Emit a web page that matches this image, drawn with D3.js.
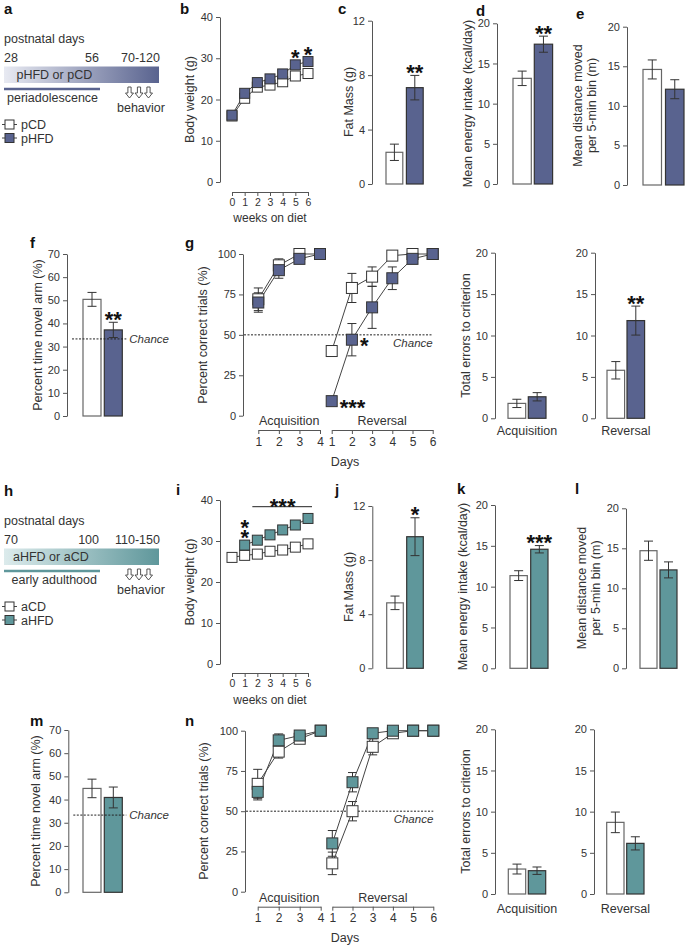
<!DOCTYPE html>
<html><head><meta charset="utf-8">
<script src="https://cdn.jsdelivr.net/npm/d3@7"></script>
<style>body{margin:0;background:#fff} svg text{font-family:"Liberation Sans",Arial,Helvetica,sans-serif;fill:#333}</style>
</head><body><svg id="c" width="685" height="945"></svg>
<script>
// ================= DATA =================
const groupsP = ['pCD', 'pHFD'];
const groupsA = ['aCD', 'aHFD'];
const weeks = [0, 1, 2, 3, 4, 5, 6];
const acqDays = [1, 2, 3, 4];
const revDays = [1, 2, 3, 4, 5, 6];

// periadolescent cohort
const bwPCD  = [16.0, 20.3, 23.0, 23.5, 24.3, 25.7, 26.3];
const bwPHFD = [16.2, 21.5, 24.1, 25.0, 26.2, 28.4, 29.2];
const fatMassP = [2.33, 7.08],  fatMassErrP = [0.6, 0.9];
const energyP  = [13.15, 17.4], energyErrP  = [0.9, 1.0];
const distP    = [14.6, 12.1],  distErrP    = [1.2, 1.2];
const novelP   = [50.4, 37.2],  novelErrP   = [3.0, 3.3];
const acqPCD  = [72, 93, 100, 100],  acqErrPCD  = [7, 4, 0, 0];
const acqPHFD = [70, 90, 97, 100],   acqErrPHFD = [6, 5, 2, 0];
const revPCD  = [40, 79, 86, 99, 100, 100], revErrPCD  = [2, 9, 6, 0, 0, 0];
const revPHFD = [9, 47, 67, 85, 97, 100],   revErrPHFD = [0, 10, 13, 7, 3, 0];
const errAcqP = [1.8, 2.6],  errAcqErrP = [0.5, 0.5];
const errRevP = [5.8, 11.8], errRevErrP = [1.05, 1.75];

// adult cohort
const bwACD  = [26.0, 26.5, 26.8, 27.5, 27.8, 28.5, 29.3];
const bwAHFD = [null, 29.0, 30.2, 31.5, 32.7, 33.9, 35.5];
const fatMassA = [4.84, 9.73],  fatMassErrA = [0.5, 1.4];
const energyA  = [11.35, 14.58], energyErrA = [0.6, 0.45];
const distA    = [14.7, 12.3],  distErrA    = [1.2, 1.0];
const novelA   = [44.8, 40.9],  novelErrA   = [4.0, 4.5];
const acqACD  = [67, 87, 95, 100], acqErrACD  = [9, 4, 2, 0];
const acqAHFD = [62, 94, 97, 100], acqErrAHFD = [5, 4, 2, 0];
const revACD  = [17.6, 50, 90, 98.4, 100, 100], revErrACD  = [7, 6, 5, 0, 0, 0];
const revAHFD = [30, 68, 98.4, 100, 100, 100],  revErrAHFD = [8, 6, 0, 0, 0, 0];
const errAcqA = [3.03, 2.83], errAcqErrA = [0.6, 0.45];
const errRevA = [8.7, 6.15],  errRevErrA = [1.25, 0.8];

// ================= STYLE =================
const FONT = '"Liberation Sans", Arial, Helvetica, sans-serif';
const BLUE = '#59638f', TEAL = '#5f979b', DARK = '#333', AX = '#555';
const svg = d3.select('#c');
const fmtInt = d3.format('d');

const defs = svg.append('defs');
function grad(id, c0, c1) {
  const g = defs.append('linearGradient').attr('id', id);
  g.append('stop').attr('offset', '0%').attr('stop-color', c0);
  g.append('stop').attr('offset', '100%').attr('stop-color', c1);
}
grad('gP', '#e8eaf2', BLUE);
grad('gA', '#dcebec', TEAL);

function txt(x, y, s, size, opts = {}) {
  const t = svg.append('text').attr('x', x).attr('y', y).text(s)
    .style('font-size', size + 'px');
  if (opts.anchor) t.attr('text-anchor', opts.anchor);
  if (opts.bold) t.style('font-weight', 'bold');
  if (opts.italic) t.style('font-style', 'italic');
  return t;
}
function letter(x, y, s) { txt(x, y, s, 15, { bold: true }).style('fill', '#111'); }
function yLabel(lines, x, yc, dx = 14) {
  lines.forEach((t, i) => svg.append('text')
    .attr('transform', `translate(${x + i * dx},${yc}) rotate(-90)`)
    .attr('text-anchor', 'middle').style('font-size', '12.5px').text(t));
}
function styleAxis(g, fs) {
  g.attr('font-family', FONT).attr('font-size', fs);
  g.select('.domain').attr('stroke', AX);
  g.selectAll('.tick line').attr('stroke', AX);
  g.selectAll('.tick text').attr('fill', '#333');
}
function yAxis(x, scale, ticks) {
  const g = svg.append('g').attr('transform', `translate(${x},0)`)
    .call(d3.axisLeft(scale).tickValues(ticks).tickFormat(fmtInt).tickSize(4).tickSizeOuter(0).tickPadding(3));
  styleAxis(g, 11);
}
function xAxis(y, scale, ticks, fs) {
  const g = svg.append('g').attr('transform', `translate(0,${y})`)
    .call(d3.axisBottom(scale).tickValues(ticks).tickFormat(fmtInt).tickSize(4).tickSizeOuter(0).tickPadding(3));
  styleAxis(g, fs);
}
function errorBar(cx, yLo, yHi, half, color = DARK) {
  if (Math.abs(yLo - yHi) < 0.5) return;
  const g = svg.append('g').attr('stroke', color).attr('stroke-width', 1);
  g.append('line').attr('x1', cx).attr('x2', cx).attr('y1', yLo).attr('y2', yHi);
  g.append('line').attr('x1', cx - half).attr('x2', cx + half).attr('y1', yLo).attr('y2', yLo);
  g.append('line').attr('x1', cx - half).attr('x2', cx + half).attr('y1', yHi).attr('y2', yHi);
}
function stars(cx, cy, s, anchor = 'middle') {
  return svg.append('text').attr('x', cx).attr('y', cy + 12.5).attr('text-anchor', anchor)
    .style('font-size', '22px').style('font-weight', 'bold').style('fill', '#111').text(s);
}

// ================= BAR PANELS =================
function barPanel(L, groups, vals, errs, fill) {
  const y = d3.scaleLinear().domain([0, L.max]).range([L.y0, L.y1]);
  yAxis(L.ax, y, d3.range(0, L.max + 0.001, L.step));
  const x = d3.scaleBand().domain(groups)
    .range([L.bx, L.bx + 2 * L.bw + L.gap]).paddingInner(L.gap / (L.bw + L.gap));
  const rows = groups.map((g, i) => ({ g, v: vals[i], e: errs[i], i }));
  svg.append('g').selectAll('rect').data(rows).join('rect')
    .attr('x', d => x(d.g)).attr('y', d => y(d.v))
    .attr('width', x.bandwidth()).attr('height', d => y(0) - y(d.v))
    .attr('fill', d => d.i === 0 ? '#fff' : fill)
    .attr('stroke', d => d.i === 0 ? '#666' : DARK).attr('stroke-width', 1.2);
  rows.forEach(d => errorBar(x(d.g) + x.bandwidth() / 2, y(d.v - d.e), y(d.v + d.e), 4.5));
  if (L.stars) stars(x(groups[1]) + x.bandwidth() / 2, y(vals[1] + errs[1]) - 8, L.stars);
  if (L.chance) {
    const yc = y(33.3);
    svg.append('line').attr('x1', L.ax + 5).attr('x2', L.bx + 2 * L.bw + L.gap + 4)
      .attr('y1', yc).attr('y2', yc).attr('stroke', '#222').attr('stroke-dasharray', '2,1.5');
    txt(L.bx + 2 * L.bw + L.gap + 7, yc + 4, 'Chance', 11.5, { italic: true });
  }
  if (L.xlabel) txt(L.bx + L.bw + L.gap / 2, L.xlabelY, L.xlabel, 12.5, { anchor: 'middle' });
  return y;
}

// ================= BODY WEIGHT =================
function weightPanel(L, series) {
  const y = d3.scaleLinear().domain([0, 40]).range([L.y0, L.y1]);
  const x = d3.scaleLinear().domain([0, 6]).range([L.xL, L.xR]);
  yAxis(L.ax, y, [0, 10, 20, 30, 40]);
  xAxis(L.xAxisY, x, weeks, 10.5);
  txt((L.xL + L.xR) / 2, L.labelY, 'weeks on diet', 12, { anchor: 'middle' });
  const line = d3.line().defined(d => d != null).x((d, i) => x(weeks[i])).y(d => y(d));
  series.forEach(s => {
    svg.append('path').attr('d', line(s.vals)).attr('fill', 'none').attr('stroke', '#444').attr('stroke-width', 1);
  });
  series.forEach(s => {
    svg.append('g').selectAll('rect').data(s.vals.map((v, i) => ({ v, w: weeks[i] })).filter(d => d.v != null))
      .join('rect').attr('x', d => x(d.w) - 5).attr('y', d => y(d.v) - 5).attr('width', 10).attr('height', 10)
      .attr('fill', s.fill).attr('stroke', DARK).attr('stroke-width', 1);
  });
  return { x, y };
}

// ================= TRIALS =================
function trialPanel(L, acq, rev) {
  const y = d3.scaleLinear().domain([0, 100]).range([L.y0, L.y1]);
  const xa = d3.scaleLinear().domain([1, 4]).range(L.acq);
  const xr = d3.scaleLinear().domain([1, 6]).range(L.rev);
  yAxis(L.ax, y, [0, 25, 50, 75, 100]);
  xAxis(L.bracketY, xa, acqDays, 12);
  xAxis(L.bracketY, xr, revDays, 12);
  txt((L.acq[0] + L.acq[1]) / 2, L.secY, 'Acquisition', 12.5, { anchor: 'middle' });
  txt((L.rev[0] + L.rev[1]) / 2, L.secY, 'Reversal', 12.5, { anchor: 'middle' });
  txt(345, L.daysY, 'Days', 12.5, { anchor: 'middle' });
  const yc = y(50);
  svg.append('line').attr('x1', L.ax + 1).attr('x2', L.rev[1]).attr('y1', yc).attr('y2', yc)
    .attr('stroke', '#222').attr('stroke-dasharray', '2,1.5');
  txt(L.rev[1], yc + 12, 'Chance', 11.5, { anchor: 'end', italic: true });
  const sections = [{ x: xa, days: acqDays, ser: acq }, { x: xr, days: revDays, ser: rev }];
  sections.forEach(sec => sec.ser.forEach(s => {
    s.vals.forEach((v, i) => errorBar(sec.x(sec.days[i]), y(v - s.errs[i]), y(Math.min(100, v + s.errs[i])), 4.5));
  }));
  sections.forEach(sec => sec.ser.forEach(s => {
    const line = d3.line().x((d, i) => sec.x(sec.days[i])).y(d => y(d));
    svg.append('path').attr('d', line(s.vals)).attr('fill', 'none').attr('stroke', '#444').attr('stroke-width', 1);
  }));
  sections.forEach(sec => sec.ser.forEach(s => {
    svg.append('g').selectAll('rect').data(s.vals.map((v, i) => ({ v, d: sec.days[i] })))
      .join('rect').attr('x', d => sec.x(d.d) - 5.5).attr('y', d => y(d.v) - 5.5)
      .attr('width', 11).attr('height', 11).attr('fill', s.fill).attr('stroke', DARK).attr('stroke-width', 1);
  }));
  return { xa, xr, y };
}

// ================= TIMELINE =================
function arrow(cx, top) {
  const p = `M${cx - 1.6},${top} L${cx + 1.6},${top} L${cx + 1.6},${top + 6} L${cx + 4},${top + 6} L${cx},${top + 11} L${cx - 4},${top + 6} L${cx - 1.6},${top + 6} Z`;
  svg.append('path').attr('d', p).attr('fill', '#fff').attr('stroke', '#444').attr('stroke-width', 0.9);
}
function timeline(T) {
  letter(4, T.top + 14, T.letter);
  txt(4, T.top + 43, 'postnatal days', 12.5);
  txt(4, T.top + 61.5, T.d0, 12.5);
  txt(99, T.top + 61.5, T.d1, 12.5, { anchor: 'end' });
  txt(T.d2x, T.top + 61.5, T.d2, 12.5);
  svg.append('rect').attr('x', 4).attr('y', T.top + 66.5).attr('width', 155).attr('height', 16.5)
    .attr('fill', `url(#${T.grad})`);
  txt(T.dietX, T.top + 79, T.diet, 12.5);
  svg.append('line').attr('x1', 4).attr('x2', 100).attr('y1', T.top + 89).attr('y2', T.top + 89)
    .attr('stroke', T.color).attr('stroke-width', 2.5);
  txt(T.periodX, T.top + 101.5, T.period, 12.5);
  [129.5, 139, 148.5].forEach(cx => arrow(cx, T.top + 87));
  txt(117, T.top + 111.5, 'behavior', 12.5);
  T.legend.forEach((name, i) => {
    const cy = T.top + 124.5 + i * 13.5;
    svg.append('line').attr('x1', 2).attr('x2', 17).attr('y1', cy).attr('y2', cy).attr('stroke', '#444');
    svg.append('rect').attr('x', 5).attr('y', cy - 4.5).attr('width', 9).attr('height', 9)
      .attr('fill', i === 0 ? '#fff' : T.color).attr('stroke', DARK);
    txt(21, cy + 4.5, name, 12.5);
  });
}

// ================= TOP HALF =================
timeline({ top: 0, letter: 'a', d0: '28', d1: '56', d2: '70-120', d2x: 121, grad: 'gP', diet: 'pHFD or pCD', dietX: 16.5,
  period: 'periadolescence', periodX: 7, color: BLUE, legend: groupsP });

letter(180, 14, 'b');
const wb = weightPanel({ ax: 220, y0: 182, y1: 17, xL: 232, xR: 308, xAxisY: 192, labelY: 222 },
  [{ vals: bwPCD, fill: '#fff' }, { vals: bwPHFD, fill: BLUE }]);
yLabel(['Body weight (g)'], 194, 99.5);
[5, 6].forEach(w => stars(wb.x(w), wb.y(bwPHFD[w]) - 12, '*'));

letter(338, 14, 'c');
barPanel({ ax: 372, y0: 184, y1: 20.7, max: 12, step: 4, bx: 386, bw: 16.8, gap: 3.6, stars: '**' },
  groupsP, fatMassP, fatMassErrP, BLUE);
yLabel(['Fat Mass (g)'], 353, 102);

letter(476, 16, 'd');
barPanel({ ax: 497, y0: 184, y1: 23.3, max: 20, step: 5, bx: 513, bw: 18.3, gap: 3, stars: '**' },
  groupsP, energyP, energyErrP, BLUE);
yLabel(['Mean energy intake (kcal/day)'], 472, 103.5);

letter(576, 19, 'e');
barPanel({ ax: 627, y0: 185, y1: 26.7, max: 20, step: 5, bx: 643, bw: 18.5, gap: 4 },
  groupsP, distP, distErrP, BLUE);
yLabel(['Mean distance moved', 'per 5-min bin (m)'], 582, 105.5);

letter(30, 248, 'f');
barPanel({ ax: 67, y0: 416, y1: 254, max: 70, step: 10, bx: 83, bw: 18, gap: 3.3, stars: '**', chance: true },
  groupsP, novelP, novelErrP, BLUE);
yLabel(['Percent time novel arm (%)'], 42, 335);

letter(185, 248, 'g');
const tg = trialPanel({ ax: 243, y0: 415.7, y1: 254, acq: [258.3, 320], rev: [331.7, 432.7], bracketY: 430, secY: 425, daysY: 466 },
  [{ vals: acqPCD, errs: acqErrPCD, fill: '#fff' }, { vals: acqPHFD, errs: acqErrPHFD, fill: BLUE }],
  [{ vals: revPCD, errs: revErrPCD, fill: '#fff' }, { vals: revPHFD, errs: revErrPHFD, fill: BLUE }]);
yLabel(['Percent correct trials (%)'], 207, 335);
stars(tg.xr(2) + 8, tg.y(revPHFD[1]) + 1, '*', 'start');
stars(tg.xr(1) + 8, tg.y(revPHFD[0]) + 1, '***', 'start');

barPanel({ ax: 495, y0: 418.3, y1: 252.7, max: 20, step: 5, bx: 508, bw: 17.7, gap: 2.6, xlabel: 'Acquisition', xlabelY: 435 },
  groupsP, errAcqP, errAcqErrP, BLUE);
yLabel(['Total errors to criterion'], 469.5, 335.5);
barPanel({ ax: 595, y0: 418.3, y1: 252.7, max: 20, step: 5, bx: 607, bw: 17.6, gap: 2.4, stars: '**', xlabel: 'Reversal', xlabelY: 435 },
  groupsP, errRevP, errRevErrP, BLUE);

// ================= BOTTOM HALF =================
timeline({ top: 482, letter: 'h', d0: '70', d1: '100', d2: '110-150', d2x: 115, grad: 'gA', diet: 'aHFD or aCD', dietX: 13,
  period: 'early adulthood', periodX: 11.5, color: TEAL, legend: groupsA });

letter(176, 495, 'i');
const wi = weightPanel({ ax: 220, y0: 664, y1: 500, xL: 232, xR: 308, xAxisY: 673, labelY: 704 },
  [{ vals: bwACD, fill: '#fff' }, { vals: bwAHFD, fill: TEAL }]);
yLabel(['Body weight (g)'], 194, 582);
// two stacked asterisks at week 1 (one text element, two lines)
const st = stars(wi.x(1), wi.y(bwAHFD[1]) - 23, '');
st.append('tspan').attr('x', wi.x(1)).text('*');
st.append('tspan').attr('x', wi.x(1)).attr('dy', 10).text('*');
svg.append('line').attr('x1', wi.x(2) - 5).attr('x2', wi.x(6) + 4).attr('y1', 506.7).attr('y2', 506.7).attr('stroke', '#222');
stars((wi.x(2) + wi.x(6)) / 2, 501.5, '***');

letter(335, 495, 'j');
barPanel({ ax: 372.3, y0: 668.3, y1: 506, max: 12, step: 4, bx: 386.7, bw: 16.6, gap: 3.4, stars: '*' },
  groupsA, fatMassA, fatMassErrA, TEAL);
yLabel(['Fat Mass (g)'], 353, 587);

letter(457, 494, 'k');
barPanel({ ax: 495, y0: 668.3, y1: 505, max: 20, step: 5, bx: 510, bw: 17.3, gap: 3.4, stars: '***' },
  groupsA, energyA, energyErrA, TEAL);
yLabel(['Mean energy intake (kcal/day)'], 467, 586.5);

letter(575, 494, 'l');
barPanel({ ax: 626, y0: 668.3, y1: 508.3, max: 20, step: 5, bx: 640, bw: 17, gap: 3 },
  groupsA, distA, distErrA, TEAL);
yLabel(['Mean distance moved', 'per 5-min bin (m)'], 586, 588);

letter(30, 726, 'm');
barPanel({ ax: 68.3, y0: 892.3, y1: 730, max: 70, step: 10, bx: 83, bw: 18, gap: 3.3, chance: true },
  groupsA, novelA, novelErrA, TEAL);
yLabel(['Percent time novel arm (%)'], 40, 811);

letter(185, 726, 'n');
trialPanel({ ax: 245, y0: 891.7, y1: 730.7, acq: [257.7, 320.7], rev: [332.3, 433.3], bracketY: 906.7, secY: 901.5, daysY: 942 },
  [{ vals: acqACD, errs: acqErrACD, fill: '#fff' }, { vals: acqAHFD, errs: acqErrAHFD, fill: TEAL }],
  [{ vals: revACD, errs: revErrACD, fill: '#fff' }, { vals: revAHFD, errs: revErrAHFD, fill: TEAL }]);
yLabel(['Percent correct trials (%)'], 207.5, 811);

barPanel({ ax: 495, y0: 894, y1: 729.3, max: 20, step: 5, bx: 508.3, bw: 17.4, gap: 2.6, xlabel: 'Acquisition', xlabelY: 913 },
  groupsA, errAcqA, errAcqErrA, TEAL);
yLabel(['Total errors to criterion'], 469.5, 811.5);
barPanel({ ax: 594, y0: 894, y1: 729.3, max: 20, step: 5, bx: 606.7, bw: 17.3, gap: 2.7, xlabel: 'Reversal', xlabelY: 913 },
  groupsA, errRevA, errRevErrA, TEAL);
</script></body></html>
